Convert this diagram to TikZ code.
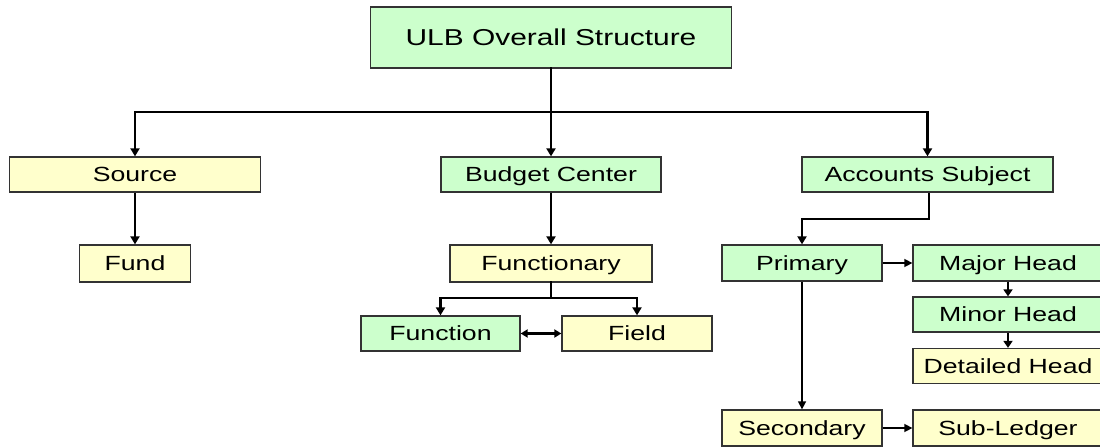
\documentclass[tikz,border=0pt]{standalone}
\usepackage{fontspec}
\newfontfamily\lbl[FakeStretch=1.3]{Liberation Sans}
\usetikzlibrary{arrows.meta}
\definecolor{gbox}{HTML}{CCFFCC}
\definecolor{ybox}{HTML}{FFFFCC}
\definecolor{bord}{HTML}{333333}
\tikzset{
  box/.style={draw=bord, line width=1.3pt, inner sep=0pt, text=black,
    text height=14.7pt, text depth=0pt,
    font=\lbl\fontsize{20.5}{22}\selectfont},
  gb/.style={box, fill=gbox},
  yb/.style={box, fill=ybox},
  link/.style={line width=2.6pt, line cap=rect},
  arr/.style={line width=2.6pt, -{Triangle[width=9pt,length=8pt]}},
  thinarr/.style={line width=1.5pt, -{Triangle[width=8pt,length=8pt]}},
  dbl/.style={line width=2.4pt, {Triangle[width=8pt,length=7pt]}-{Triangle[width=8pt,length=7pt]}}
}
\begin{document}
\begin{tikzpicture}[x=1pt,y=-1pt]
\useasboundingbox (0,0) rectangle (1100,447);
\clip (0,0) rectangle (1100,447);
\node[gb, minimum width=361pt, minimum height=61pt, text height=16.5pt, font=\lbl\fontsize{23}{25}\selectfont] (ulb) at (551,37.5) {ULB Overall Structure};
\node[yb, minimum width=251pt, minimum height=35pt] (source) at (135,174.5) {Source};
\node[yb, minimum width=111pt, minimum height=37pt] (fund) at (135,263.5) {Fund};
\node[gb, minimum width=220pt, minimum height=35pt] (bc) at (551,174.5) {Budget Center};
\node[gb, minimum width=251pt, minimum height=35pt] (as) at (927.5,174.5) {Accounts Subject};
\node[yb, minimum width=202pt, minimum height=37pt] (fy) at (551,263.5) {Functionary};
\node[gb, minimum width=159pt, minimum height=35pt] (fn) at (440.5,333.5) {Function};
\node[yb, minimum width=150pt, minimum height=35pt] (fd) at (637,333.5) {Field};
\node[gb, minimum width=160pt, minimum height=36pt] (pr) at (802,263) {Primary};
\node[gb, minimum width=190pt, minimum height=36pt] (mj) at (1008,263) {Major Head};
\node[gb, minimum width=190pt, minimum height=35pt] (mn) at (1008,314.5) {Minor Head};
\node[yb, minimum width=190pt, minimum height=35pt] (dt) at (1008,366) {Detailed Head};
\node[yb, minimum width=160pt, minimum height=36pt] (sc) at (802,428) {Secondary};
\node[yb, minimum width=190pt, minimum height=36pt] (sl) at (1008,428) {Sub-Ledger};
% top tree
\coordinate (hb) at (551,112);
\draw[link] (ulb.south) -- (hb);
\draw[link] (source.north |- hb) -- (as.north |- hb);
\draw[arr] (source.north |- hb) -- (source.north);
\draw[arr] (hb) -- (bc.north);
\draw[arr] (as.north |- hb) -- (as.north);
\draw[arr] (source.south) -- (fund.north);
\draw[arr] (bc.south) -- (fy.north);
% functionary branch
\draw[link] (fy.south) -- ++(0,15) coordinate (fb);
\draw[line width=2.2pt, -{Triangle[width=9pt,length=8pt]}] (fb) -| (fn.north);
\draw[line width=2.2pt, -{Triangle[width=9pt,length=8pt]}] (fb) -| (fd.north);
\draw[dbl] (fn.east) -- (fd.west);
% accounts branch
\draw[line width=2.2pt, -{Triangle[width=9pt,length=8pt]}] ([xshift=1.5pt]as.south) -- ++(0,26) -| (pr.north);
\draw[thinarr] (pr.east) -- (mj.west);
\draw[line width=2.2pt, -{Triangle[width=9pt,length=7pt]}] (mj.south) -- (mn.north);
\draw[line width=2.2pt, -{Triangle[width=9pt,length=7pt]}] (mn.south) -- (dt.north);
\draw[thinarr] (pr.south) -- (sc.north);
\draw[thinarr] (sc.east) -- (sl.west);
\end{tikzpicture}
\end{document}
